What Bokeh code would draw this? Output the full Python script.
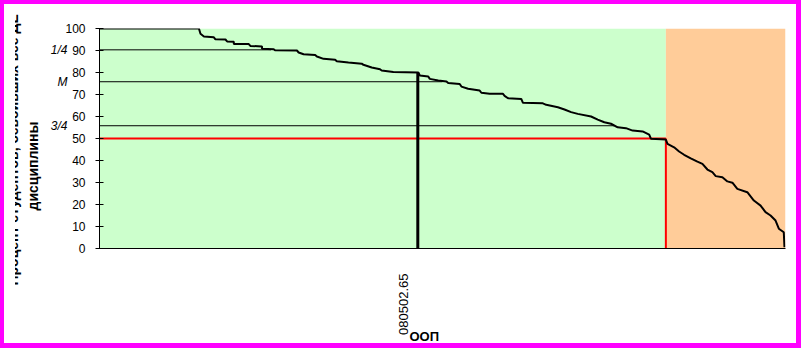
import math
from bokeh.plotting import figure
from bokeh.models import Range1d, FixedTicker, LinearAxis, Title
from bokeh.embed import file_html
from bokeh.resources import INLINE

# ---- data ----
# share of students (%, sorted by result) and their score (%)
rank_pct = [0, 14.49, 14.72, 15.22, 16.67, 16.90, 18.36, 18.60, 19.58, 19.58, 21.76, 21.99,
            23.69, 23.69, 25.39, 25.58, 28.78, 29.03, 29.75, 31.44, 31.69, 32.66, 34.35,
            34.59, 36.29, 38.23, 38.47, 39.68, 40.89, 41.13, 42.83, 46.47, 46.70, 47.92,
            48.15, 49.38, 50.58, 50.83, 52.51, 52.76, 53.73, 55.42, 55.67, 56.87, 58.82,
            59.05, 59.55, 61.48, 61.73, 64.63, 65.12, 66.82, 67.78, 68.75, 69.72, 71.66,
            72.63, 73.59, 74.56, 75.54, 76.74, 77.72, 79.17, 80.13, 80.38, 82.56, 82.80,
            83.76, 84.49, 85.22, 86.19, 87.16, 87.89, 88.62, 89.34, 89.83, 90.80, 91.53,
            92.26, 92.98, 94.43, 95.39, 96.37, 97.09, 97.82, 98.55, 99.03, 99.75, 99.85]
score = [100, 100, 97.6, 96.4, 96.0, 95.1, 95.0, 94.1, 94.0, 93.0, 92.9, 92.1,
         91.8, 90.8, 90.6, 90.1, 90.0, 89.1, 88.3, 88.0, 87.3, 86.2, 85.8,
         85.1, 84.5, 84.0, 83.5, 82.3, 81.5, 80.9, 80.2, 80.0, 78.6, 78.2,
         77.1, 76.4, 75.9, 75.2, 74.8, 73.6, 72.6, 71.8, 70.8, 70.3, 70.3,
         69.4, 68.3, 68.0, 66.2, 66.0, 65.3, 64.2, 63.2, 62.0, 61.2, 60.0,
         58.6, 57.4, 56.7, 55.1, 54.7, 53.6, 53.2, 51.8, 49.9, 49.5, 47.6,
         46.0, 44.1, 42.6, 41.0, 39.5, 38.5, 35.9, 34.7, 32.9, 32.4, 30.5,
         29.9, 27.1, 25.6, 21.8, 19.5, 16.5, 15.0, 12.7, 9.0, 7.4, 0.6]

quartile_names = ["1/4", "M", "3/4"]
quartile_pos = [25, 50, 75]
quartile_val = [90.3, 75.8, 55.8]

threshold = 50
threshold_pos = 82.56

program_code = "080502.65"
program_pos = 46.4
program_label_pos = 44.3
program_score = 80

zone_left = [0, threshold_pos]
zone_right = [threshold_pos, 100]
zone_colors = ["#CCFFCC", "#FFCC99"]

y_ticks = list(range(0, 101, 10))

y_title_1 = "Процент студентов, освоивших все ДЕ"
y_title_2 = "дисциплины"
x_title = "ООП"

FONT = "Liberation Sans"

# ---- figure ----
p = figure(width=801, height=348, x_range=Range1d(0, 100), y_range=Range1d(0, 100),
           output_backend="svg", toolbar_location=None,
           min_border_left=82, min_border_right=31, min_border_top=24, min_border_bottom=104,
           background_fill_color="white", border_fill_color="white", outline_line_color=None)
p.styles = {"border-style": "solid", "border-color": "#FF00FF",
            "border-width": "4px 5px 5px 4px", "padding-left": "11px",
            "background-color": "white", "overflow": "hidden"}
p.grid.visible = False

p.quad(left=zone_left, right=zone_right, bottom=0, top=100, fill_color=zone_colors,
       line_color=None)

# quartile lines
p.segment(x0=[0] * 3, y0=quartile_val, x1=quartile_pos, y1=quartile_val,
          line_color="black", line_width=1)
# threshold
p.segment(x0=[0, threshold_pos], y0=[threshold, 0], x1=[threshold_pos, threshold_pos],
          y1=[threshold, threshold], line_color="#FF0000", line_width=2)
# program marker
p.segment(x0=[program_pos], y0=[0], x1=[program_pos], y1=[program_score],
          line_color="black", line_width=3)
# curve
p.line(rank_pct, score, line_color="black", line_width=2)

# ---- axes ----
ya = p.yaxis[0]
ya.ticker = FixedTicker(ticks=y_ticks)
ya.major_tick_in = 4
ya.major_tick_out = 4
ya.minor_tick_line_color = None
ya.major_label_standoff = 10
ya.major_label_text_font = FONT
ya.major_label_text_font_size = "12px"
ya.major_label_text_color = "black"
ya.axis_line_color = "black"

# quartile names as a second left axis
qa = LinearAxis(ticker=FixedTicker(ticks=quartile_val),
                major_label_overrides={v: n for v, n in zip(quartile_val, quartile_names)},
                axis_line_color=None, major_tick_line_color=None, minor_tick_line_color=None,
                major_tick_in=0, major_tick_out=0, major_label_standoff=-5,
                major_label_text_font=FONT, major_label_text_font_style="italic",
                major_label_text_font_size="12px", major_label_text_color="black")
p.add_layout(qa, "left")

# y title (two lines, outer one partly cut by the chart edge)
p.add_layout(Title(text=y_title_2, align="left", offset=38, standoff=14,
                   vertical_align="bottom", text_font=FONT, text_font_style="bold",
                   text_font_size="14px", text_color="black"), "left")
p.add_layout(Title(text=y_title_1, align="left", offset=-37, standoff=-21,
                   vertical_align="top", text_font=FONT, text_font_style="bold",
                   text_font_size="14px", text_color="black"), "left")

xa = p.xaxis[0]
xa.ticker = FixedTicker(ticks=[program_label_pos])
xa.major_label_overrides = {program_label_pos: program_code}
xa.major_label_orientation = math.pi / 2
xa.major_tick_line_color = None
xa.major_tick_in = 0
xa.major_tick_out = 0
xa.minor_tick_line_color = None
xa.major_label_standoff = 25
xa.major_label_text_font = FONT
xa.major_label_text_font_size = "13px"
xa.major_label_text_color = "black"
xa.axis_line_color = "black"

p.add_layout(Title(text=x_title, align="left", offset=310, standoff=-18,
                   vertical_align="top", text_font=FONT, text_font_style="bold",
                   text_font_size="13px", text_color="black"), "below")

open("out.html", "w").write(file_html(p, INLINE))
